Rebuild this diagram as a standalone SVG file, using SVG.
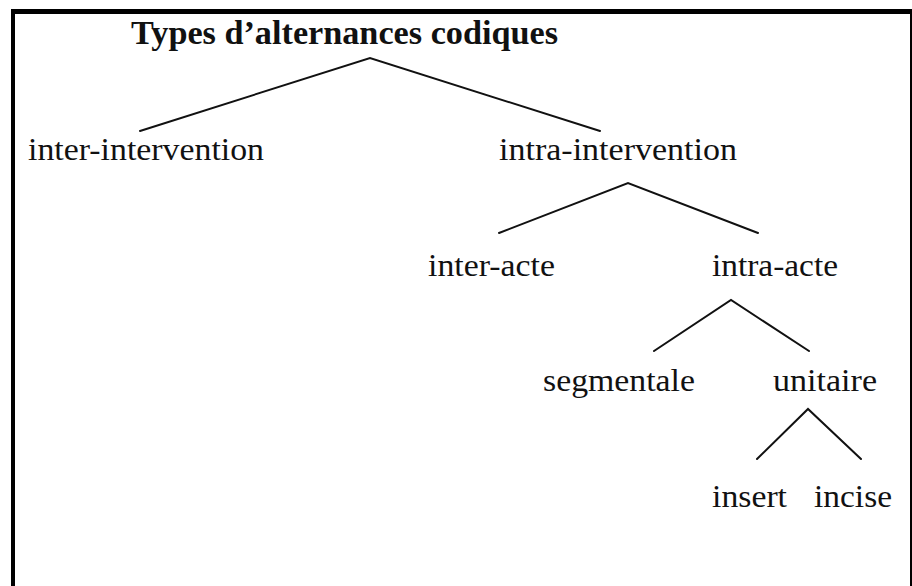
<svg xmlns="http://www.w3.org/2000/svg" width="912" height="586" viewBox="0 0 912 586">
<style>
text{font-family:"Liberation Serif","Times New Roman",Times,serif;fill:#111;font-size:32px}
.title{font-weight:bold;font-size:33px}
.edge{stroke:#111;stroke-width:2;fill:none;stroke-linecap:round}
</style>
<rect width="912" height="586" fill="#fff"/>
<g id="frame" fill="#000">
<rect x="11" y="9" width="4" height="577"/>
<rect x="11" y="9" width="901" height="5"/>
<rect x="910" y="9" width="2" height="577"/>
</g>
<g id="connectors">
<path class="edge" d="M140 131 L370 58 L600 131"/>
<path class="edge" d="M499 233 L628 183 L758 233"/>
<path class="edge" d="M654 351 L731 300 L809 351"/>
<path class="edge" d="M757 459 L808 409 L861 459"/>
</g>
<g id="root"><text class="title" x="131" y="44" textLength="427" lengthAdjust="spacingAndGlyphs">Types d’alternances codiques</text></g>
<g id="inter-intervention"><text x="28" y="160" textLength="236" lengthAdjust="spacingAndGlyphs">inter-intervention</text></g>
<g id="intra-intervention"><text x="499" y="160" textLength="238" lengthAdjust="spacingAndGlyphs">intra-intervention</text></g>
<g id="inter-acte"><text x="428" y="276" textLength="127" lengthAdjust="spacingAndGlyphs">inter-acte</text></g>
<g id="intra-acte"><text x="712" y="276" textLength="126" lengthAdjust="spacingAndGlyphs">intra-acte</text></g>
<g id="segmentale"><text x="543" y="391" textLength="152" lengthAdjust="spacingAndGlyphs">segmentale</text></g>
<g id="unitaire"><text x="773" y="391" textLength="104" lengthAdjust="spacingAndGlyphs">unitaire</text></g>
<g id="insert"><text x="712" y="507" textLength="75" lengthAdjust="spacingAndGlyphs">insert</text></g>
<g id="incise"><text x="814" y="507" textLength="78" lengthAdjust="spacingAndGlyphs">incise</text></g>
</svg>
